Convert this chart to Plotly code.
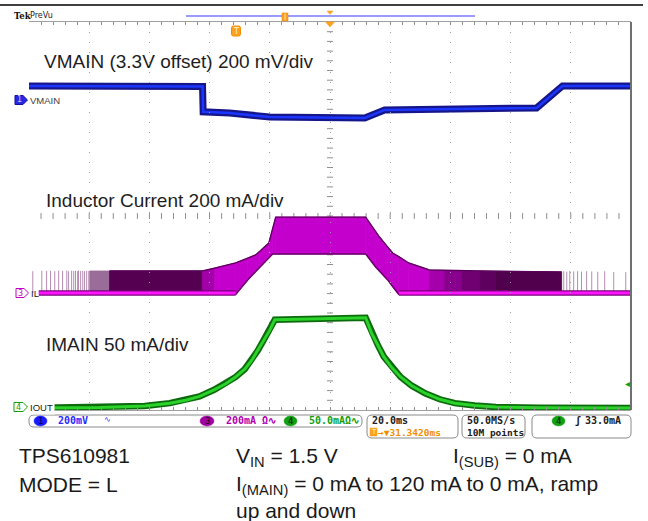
import plotly.graph_objects as go

# ---------------- data ----------------
time_per_div_ms = 20.0
trigger_offset_ms = 31.342          # horizontal position readout
vmain_scale_mv = 200.0              # ch1
il_scale_ma = 200.0                 # ch3
iout_scale_ma = 50.0                # ch4
trigger_level_ma = 33.0

# VMAIN deviation from 3.3 V offset (mV) vs time (ms, trigger = 0)
vmain_t = [-68.66, -40.0, -11.0, -10.8, -2.0, 11.3, 42.9, 49.5, 100.0, 108.6, 131.34]
vmain_mv = [58, 57, 56, -49, -54, -70, -74, -41, -33, 58, 58]

# inductor current envelope (mA): top / bottom of the switching band
il_t = [-48.5, -41.9, -11.0, -7.0, 0.0, 4.0, 6.6, 8.0, 11.0, 12.3, 13.3, 43.2, 46.5,
        47.8, 50.5, 52.2, 54.2, 57.5, 64.4, 69.4, 75.1, 81.1, 86.4, 108.3]
il_top = [91, 91, 91, 103, 124, 144, 157, 172, 206, 266, 313, 313, 254,
          231, 190, 165, 150, 124, 95, 93, 92, 91, 90, 87]
il_bot = [-4, -6, -6, -6, -6, 54, 88, 107, 144, 161, 161, 161, 107,
          90, 54, 26, -6, -6, -6, -6, -6, -6, -6, -6]
# isolated DCM pulses (ms, peak mA)
il_spike_t = [-67.4, -64.4, -62.8, -61.5, -60.1, -58.8, -57.5, -56.1, -55.5, -54.5, -53.8,
              -53.2, -52.5, -52.2, -51.5, -50.8, -50.2, -49.5, -48.8,
              109.0, 110.0, 111.0, 112.3, 113.6, 114.9, 116.6, 118.3, 120.3, 122.6, 125.6, 129.6]
il_spike_ma = [90, 92, 91, 92, 90, 92, 91, 93, 90, 92, 91,
               92, 90, 93, 91, 92, 90, 92, 91,
               90, 88, 91, 89, 90, 88, 90, 89, 88, 90, 87, 86]
# idle baseline segments of the inductor current (pairs of start/end, ms)
il_base_t = [-65.4, 0.0, 54.2, 131.34]

# IMAIN output current (mA)
iout_t = [-68.66, -45.2, -30.2, -21.9, -16.6, -12.0, -7.0, -3.3, 0.0, 3.0, 5.3, 7.3, 9.3,
          11.3, 13.0, 43.2, 44.2, 45.2, 47.2, 49.2, 51.8, 54.8, 58.5, 63.1, 67.8, 72.8,
          79.4, 86.4, 101.0, 131.34]
iout_ma = [0, 0.5, 2, 5, 8, 12, 19, 25, 32, 40, 49, 59, 70,
           80, 91, 93, 85, 77, 65, 53, 42, 32, 23, 15, 9, 5,
           2.5, 1, 0.3, 0]

# ---------------- styling / geometry ----------------
vmain_zero_div = 2.392
il_zero_div = -1.588
iout_zero_div = -3.959

band_colors = ["#9a6c98", "#560052", "#a200a8"] + ["#c400cc"] * 15 + \
              ["#a600ac", "#8a008e", "#700072", "#5e005e", "#50004c"]

L, R, T, B = 29, 631, 22, 410
W, H = 648, 521


def PX(x):
    return (x - L) / (R - L)


def PY(y):
    return (B - y) / (B - T)


def chan_range(scale, zero_div):
    return [(-4 - zero_div) * scale, (4 - zero_div) * scale]


x0 = trigger_offset_ms - 5 * time_per_div_ms
x1 = trigger_offset_ms + 5 * time_per_div_ms

fig = go.Figure()

for i in range(len(il_t) - 1):
    c = band_colors[i]
    fig.add_trace(go.Scatter(
        x=[il_t[i], il_t[i + 1], il_t[i + 1], il_t[i], il_t[i]],
        y=[il_top[i], il_top[i + 1], il_bot[i + 1], il_bot[i], il_top[i]],
        yaxis="y3", mode="lines", fill="toself", fillcolor=c,
        line=dict(color=c, width=0.8), hoverinfo="skip", showlegend=False))

sx, sy = [], []
for t, h in zip(il_spike_t, il_spike_ma):
    sx += [t, t, None]
    sy += [0, h, None]
fig.add_trace(go.Scatter(x=sx, y=sy, yaxis="y3", mode="lines",
                         line=dict(color="#b48cb2", width=1), hoverinfo="skip", showlegend=False))

fig.add_trace(go.Scatter(x=il_t[1:], y=il_top[1:], yaxis="y3", mode="lines",
                         line=dict(color="#5a005a", width=1.3), hoverinfo="skip", showlegend=False))
fig.add_trace(go.Scatter(x=il_t[4:17], y=il_bot[4:17], yaxis="y3", mode="lines",
                         line=dict(color="#6a006a", width=1.5), hoverinfo="skip", showlegend=False))

bx, by = [], []
for k in range(0, len(il_base_t), 2):
    bx += [il_base_t[k], il_base_t[k + 1], None]
    by += [0, 0, None]
fig.add_trace(go.Scatter(x=bx, y=by, yaxis="y3", mode="lines",
                         line=dict(color="#7a007a", width=5.5), hoverinfo="skip", showlegend=False))
fig.add_trace(go.Scatter(x=bx, y=by, yaxis="y3", mode="lines",
                         line=dict(color="#ff14ff", width=3), hoverinfo="skip", showlegend=False))

fig.add_trace(go.Scatter(x=vmain_t, y=vmain_mv, yaxis="y2", mode="lines",
                         line=dict(color="#16168a", width=7), hoverinfo="skip", showlegend=False))
fig.add_trace(go.Scatter(x=vmain_t, y=vmain_mv, yaxis="y2", mode="lines",
                         line=dict(color="#1a36ff", width=2.5), hoverinfo="skip", showlegend=False))

fig.add_trace(go.Scatter(x=iout_t, y=iout_ma, yaxis="y4", mode="lines",
                         line=dict(color="#0c6a0c", width=6.5), hoverinfo="skip", showlegend=False))
fig.add_trace(go.Scatter(x=iout_t, y=iout_ma, yaxis="y4", mode="lines",
                         line=dict(color="#2ad22a", width=3), hoverinfo="skip", showlegend=False))

grid_c = "#9e9e9e"
tick_c = "#8e8e8e"

fig.update_layout(
    width=W, height=H,
    margin=dict(l=L, r=W - R, t=T, b=H - B, pad=0, autoexpand=False),
    paper_bgcolor="white", plot_bgcolor="rgba(0,0,0,0)",
    showlegend=False,
    xaxis=dict(range=[x0, x1], showticklabels=False, showgrid=True, gridcolor=grid_c,
               griddash="1px,9px", gridwidth=1, tick0=x0, dtick=time_per_div_ms,
               ticks="inside", ticklen=3, tickcolor=tick_c, showline=True,
               linecolor="#a0a0a0", linewidth=1, mirror="allticks", zeroline=False,
               automargin=False,
               minor=dict(dtick=time_per_div_ms / 5, tick0=x0, ticks="inside", ticklen=3,
                          tickcolor=tick_c, showgrid=False)),
    yaxis=dict(range=[-4, 4], showticklabels=False, showgrid=True, gridcolor=grid_c,
               griddash="1px,11px", gridwidth=1, tick0=-4, dtick=1,
               ticks="inside", ticklen=3, tickcolor=tick_c, showline=True,
               linecolor="#a0a0a0", linewidth=1, mirror="allticks", zeroline=False,
               automargin=False,
               minor=dict(dtick=0.2, tick0=-4, ticks="inside", ticklen=3,
                          tickcolor=tick_c, showgrid=False)),
    yaxis2=dict(overlaying="y", range=chan_range(vmain_scale_mv, vmain_zero_div), visible=False),
    yaxis3=dict(overlaying="y", range=chan_range(il_scale_ma, il_zero_div), visible=False),
    yaxis4=dict(overlaying="y", range=chan_range(iout_scale_ma, iout_zero_div), visible=False),
)

shapes = []


def pline(xa, ya, xb, yb, color, width, layer="above"):
    shapes.append(dict(type="line", xref="paper", yref="paper", x0=PX(xa), y0=PY(ya),
                       x1=PX(xb), y1=PY(yb), line=dict(color=color, width=width), layer=layer))


def ppath(pts, fill, line_color, lw=1):
    d = "M" + " L".join(f"{PX(a):.5f},{PY(b):.5f}" for a, b in pts) + " Z"
    shapes.append(dict(type="path", xref="paper", yref="paper", path=d, fillcolor=fill,
                       line=dict(color=line_color, width=lw), layer="above"))


def rrect(xa, ya, xb, yb, r, line_color="#8a8a8a", fill="rgba(0,0,0,0)"):
    X, Y = PX, PY
    d = (f"M{X(xa + r)},{Y(ya)} L{X(xb - r)},{Y(ya)} Q{X(xb)},{Y(ya)} {X(xb)},{Y(ya + r)} "
         f"L{X(xb)},{Y(yb - r)} Q{X(xb)},{Y(yb)} {X(xb - r)},{Y(yb)} L{X(xa + r)},{Y(yb)} "
         f"Q{X(xa)},{Y(yb)} {X(xa)},{Y(yb - r)} L{X(xa)},{Y(ya + r)} Q{X(xa)},{Y(ya)} {X(xa + r)},{Y(ya)} Z")
    shapes.append(dict(type="path", xref="paper", yref="paper", path=d, fillcolor=fill,
                       line=dict(color=line_color, width=1), layer="above"))


def ellipse(xa, ya, xb, yb, fill):
    shapes.append(dict(type="circle", xref="paper", yref="paper", x0=PX(xa), y0=PY(ya),
                       x1=PX(xb), y1=PY(yb), fillcolor=fill, line=dict(color=fill, width=0.5),
                       layer="above"))


# centre crosshair ticks of the graticule (1/5 division)
cx, cy = (L + R) / 2, (T + B) / 2
for k in range(1, 50):
    xx = L + k * (R - L) / 50
    shapes.append(dict(type="line", xref="paper", yref="paper", x0=PX(xx), x1=PX(xx),
                       y0=PY(cy - 3), y1=PY(cy + 3), line=dict(color=tick_c, width=1), layer="below"))
for k in range(1, 40):
    yy = T + k * (B - T) / 40
    shapes.append(dict(type="line", xref="paper", yref="paper", x0=PX(cx - 3), x1=PX(cx + 3),
                       y0=PY(yy), y1=PY(yy), line=dict(color=tick_c, width=1), layer="below"))

pline(0, 5, 643, 5, "#000000", 1.5)
pline(186, 16, 475, 16, "#7878ff", 1.5)
ppath([(282, 13), (288, 13), (288, 21), (282, 21)], "#ffa020", "#e08000", 0.5)
pline(285, 13.5, 285, 20.5, "#ffe0a0", 1)
ppath([(327, 11), (333, 11), (330, 14.5)], "#ffa020", "#ffa020", 0.5)
ppath([(325.5, 22), (334.5, 22), (330, 27)], "#ffa020", "#ffa020", 0.5)
rrect(231.5, 26, 240.5, 36, 2, "#f09000", "#ffa020")
pline(R, T, R, B, "#707070", 2)

ppath([(15, 95.5), (23, 95.5), (27.5, 100), (23, 104.5), (15, 104.5)], "#2828e0", "#1010a0")
ppath([(16, 288.5), (24, 288.5), (28.5, 293), (24, 297.5), (16, 297.5)], "white", "#c000c0")
ppath([(14, 402.5), (23, 402.5), (27.5, 407), (23, 411.5), (14, 411.5)], "white", "#10a010")

rrect(29, 415, 362, 427, 5)
rrect(367, 415, 458, 438, 5)
rrect(462, 415, 525, 438, 5)
rrect(532, 415, 631, 438, 5)
ellipse(34, 416, 47, 426, "#1a1aff")
ellipse(200, 416, 214, 426, "#a000a0")
ellipse(284, 416, 297, 426, "#10a010")
ellipse(552, 416, 565, 426, "#10a010")
ppath([(370, 428), (377, 428), (377, 436), (370, 436)], "#ffa020", "#ffa020", 0.5)

fig.update_layout(shapes=shapes)

annotations = []


def ann(text, x, y, size, color, family="Liberation Sans", xanchor="left", yanchor="middle",
        borderpad=0, **kw):
    annotations.append(dict(text=text, x=PX(x), y=PY(y), xref="paper", yref="paper",
                            xanchor=xanchor, yanchor=yanchor, showarrow=False,
                            font=dict(size=size, color=color, family=family),
                            borderpad=borderpad, **kw))


ann("<b>Tek</b>", 13, 16, 8.5, "#111111", "DejaVu Serif")
ann("PreVu", 29, 15.5, 8, "#222222", "DejaVu Sans")
ann("T", 236, 31, 8, "#fff3d0", "DejaVu Sans", xanchor="center")

ann("VMAIN (3.3V offset) 200 mV/div", 43, 62, 19, "#1e1e1e")
ann("Inductor Current 200 mA/div", 45, 200, 19, "#1e1e1e")
ann("IMAIN 50 mA/div", 45, 344, 19, "#1e1e1e")

ann("1", 19.5, 100, 8, "#c8c8ff", "DejaVu Sans", xanchor="center")
ann("VMAIN", 29, 100.5, 9.5, "#404040", "Liberation Sans")
ann("3", 20.5, 293, 8, "#c000c0", "DejaVu Sans", xanchor="center")
ann("IL", 30, 293, 9.5, "#202020", "Liberation Sans")
ann("4", 18.5, 407, 8, "#10a010", "DejaVu Sans", xanchor="center")
ann("IOUT", 27.5, 407, 9.5, "#202020", "Liberation Sans", bgcolor="white", borderpad=1)
ann("◂", 627, 383, 10, "#10a010", "DejaVu Sans", xanchor="center")

mono = "DejaVu Sans Mono"
ann("1", 40.5, 421, 9, "#000060", mono, xanchor="center")
ann("<b>200mV</b>", 57, 421, 10, "#2a2aff", mono)
ann("∿", 103, 420, 8, "#2a2aff", mono)
ann("3", 207, 421, 9, "#200020", mono, xanchor="center")
ann("<b>200mA Ω∿</b>", 225, 421, 10, "#b000b0", mono)
ann("4", 290.5, 421, 9, "#002000", mono, xanchor="center")
ann("<b>50.0mAΩ∿</b>", 308, 421, 10, "#10a010", mono)
ann("<b>20.0ms</b>", 371, 421, 10, "#202020", mono)
ann("T", 373.5, 432, 7, "#fff3d0", "DejaVu Sans", xanchor="center")
ann("<b>→▼31.3420ms</b>", 377, 432, 9.5, "#f09000", mono)
ann("<b>50.0MS/s</b>", 466, 421, 10, "#202020", mono)
ann("<b>10M points</b>", 466, 432, 9.5, "#202020", mono)
ann("4", 558.5, 421, 9, "#002000", mono, xanchor="center")
ann("<b>ʃ</b>", 574, 421, 10, "#202020", mono)
ann(f"<b>{trigger_level_ma:.1f}mA</b>", 584, 421, 10, "#202020", mono)

cap = "#1a1a1a"
ann("TPS610981", 18, 455, 21, cap)
ann("V<sub>IN</sub> = 1.5 V", 235, 457, 21, cap)
ann("I<sub>(SUB)</sub> = 0 mA", 452, 457, 21, cap)
ann("MODE = L", 18, 484, 21, cap)
ann("I<sub>(MAIN)</sub> = 0 mA to 120 mA to 0 mA, ramp", 235, 485, 21, cap)
ann("up and down", 235, 510, 21, cap)

fig.update_layout(annotations=annotations)

fig.write_html("out.html", config={"displayModeBar": False},
               post_script="document.body.style.margin='0';document.body.style.overflow='hidden';")
